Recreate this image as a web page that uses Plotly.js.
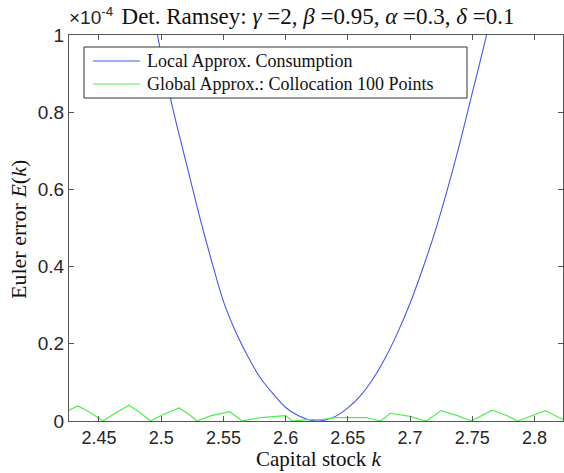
<!DOCTYPE html>
<html>
<head>
<meta charset="utf-8">
<script src="https://cdn.plot.ly/plotly-3.0.1.min.js"></script>
<style>
html,body{margin:0;padding:0;background:#fff;}
#chart{width:564px;height:473px;}
</style>
</head>
<body>
<div id="chart"></div>
<script>
// Euler errors, in units of 1e-4
var kLocal = [2.49, 2.50, 2.51, 2.52, 2.53, 2.54, 2.55, 2.56, 2.57, 2.58, 2.59, 2.60, 2.61, 2.62, 2.626, 2.63, 2.64, 2.65, 2.66, 2.67, 2.68, 2.69, 2.70, 2.71, 2.72, 2.73, 2.74, 2.75, 2.76, 2.77];
var eLocal = [1.12, 0.95, 0.80, 0.67, 0.54, 0.42, 0.31, 0.23, 0.165, 0.11, 0.07, 0.035, 0.014, 0.002, 0.0, 0.001, 0.012, 0.034, 0.065, 0.108, 0.163, 0.229, 0.305, 0.393, 0.49, 0.60, 0.72, 0.85, 0.98, 1.12];

var kGlobal = [2.4259, 2.4331, 2.443, 2.4532, 2.463, 2.4741, 2.483, 2.4913, 2.499, 2.5143, 2.522, 2.5287, 2.540, 2.555, 2.5652, 2.580, 2.600, 2.6055, 2.615, 2.630, 2.6407, 2.665, 2.6763, 2.6841, 2.700, 2.713, 2.725, 2.738, 2.7492, 2.766, 2.777, 2.7866, 2.8088, 2.8233];
var eGlobal = [0.028, 0.039, 0.022, 0.0, 0.020, 0.041, 0.022, 0.0, 0.013, 0.034, 0.018, 0.0, 0.014, 0.024, 0.0, 0.009, 0.014, 0.0, 0.003, 0.004, 0.009, 0.009, 0.0, 0.020, 0.012, 0.0, 0.027, 0.014, 0.0, 0.028, 0.015, 0.0, 0.027, 0.003];

var xTickVals = [2.45, 2.5, 2.55, 2.6, 2.65, 2.7, 2.75, 2.8];
var xTickText = ["2.45", "2.5", "2.55", "2.6", "2.65", "2.7", "2.75", "2.8"];
var yTickVals = [0, 0.2, 0.4, 0.6, 0.8, 1];
var yTickText = ["0", "0.2", "0.4", "0.6", "0.8", "1"];

var seriesNames = ["Local Approx. Consumption", "Global Approx.: Collocation 100 Points"];
var seriesColors = ["#4657f2", "#4cef4c"];

var M = {l: 69, r: 1, t: 35, b: 52};
var W = 564, H = 473;
var pw = W - M.l - M.r, ph = H - M.t - M.b;
function px(x){ return (x - M.l) / pw; }
function py(y){ return (H - M.b - y) / ph; }

var serif = "'Liberation Serif', 'DejaVu Serif', serif";
var sans = "'Liberation Sans', Arial, Helvetica, sans-serif";

var traces = [
  {x: kLocal, y: eLocal, mode: 'lines', name: seriesNames[0],
   line: {color: seriesColors[0], width: 1.1, shape: 'spline', smoothing: 0.8}},
  {x: kGlobal, y: eGlobal, mode: 'lines', name: seriesNames[1],
   line: {color: seriesColors[1], width: 1.2}}
];

var shapes = [
  {type: 'rect', xref: 'paper', yref: 'paper', x0: px(84), x1: px(467), y0: py(47), y1: py(98),
   line: {color: '#333', width: 1}, fillcolor: '#fff', layer: 'above'},
  {type: 'line', xref: 'paper', yref: 'paper', x0: px(93), x1: px(140), y0: py(61), y1: py(61),
   line: {color: seriesColors[0], width: 1}, layer: 'above'},
  {type: 'line', xref: 'paper', yref: 'paper', x0: px(93), x1: px(140), y0: py(84), y1: py(84),
   line: {color: seriesColors[1], width: 1}, layer: 'above'}
];

var annotations = [
  {xref: 'paper', yref: 'paper', x: px(145), y: py(61), xanchor: 'left', yanchor: 'middle',
   text: seriesNames[0], showarrow: false, font: {family: serif, size: 18, color: '#111'}},
  {xref: 'paper', yref: 'paper', x: px(145), y: py(84), xanchor: 'left', yanchor: 'middle',
   text: seriesNames[1], showarrow: false, font: {family: serif, size: 18, color: '#111'}},
  {xref: 'paper', yref: 'paper', x: px(67), y: py(30), xanchor: 'left', yanchor: 'bottom',
   text: '×10<sup>-4</sup>', showarrow: false, font: {family: sans, size: 19, color: '#262626'}},
  {xref: 'paper', yref: 'paper', x: px(318), y: py(473), xanchor: 'center', yanchor: 'bottom',
   text: 'Capital stock <i>k</i>', showarrow: false, font: {family: serif, size: 21, color: '#111'}},
  {xref: 'paper', yref: 'paper', x: px(18), y: py(230), xanchor: 'center', yanchor: 'middle', textangle: -90,
   text: 'Euler error <i>E</i>(<i>k</i>)', showarrow: false, font: {family: serif, size: 22, color: '#111'}}
];

var layout = {
  width: W, height: H,
  margin: M,
  paper_bgcolor: '#fff', plot_bgcolor: '#fff',
  showlegend: false,
  title: {text: 'Det. Ramsey: <i>γ</i> =2, <i>β</i> =0.95, <i>α</i> =0.3, <i>δ</i> =0.1',
          font: {family: serif, size: 23, color: '#111'},
          x: px(318), xref: 'paper', xanchor: 'center', y: 1 - 16/H, yanchor: 'middle'},
  xaxis: {range: [2.4259, 2.8229], tickvals: xTickVals, ticktext: xTickText,
          ticks: 'inside', ticklen: 5, tickcolor: '#555', tickwidth: 1,
          showline: true, linecolor: '#555', linewidth: 1, mirror: 'allticks',
          showgrid: false, zeroline: false,
          tickfont: {family: sans, size: 18, color: '#262626'}},
  yaxis: {range: [0, 1], tickvals: yTickVals, ticktext: yTickText,
          ticks: 'inside', ticklen: 5, tickcolor: '#555', tickwidth: 1,
          showline: true, linecolor: '#555', linewidth: 1, mirror: 'allticks',
          showgrid: false, zeroline: false,
          tickfont: {family: sans, size: 19, color: '#262626'}},
  shapes: shapes,
  annotations: annotations
};

Plotly.newPlot('chart', traces, layout, {displayModeBar: false, staticPlot: true});
</script>
</body>
</html>
